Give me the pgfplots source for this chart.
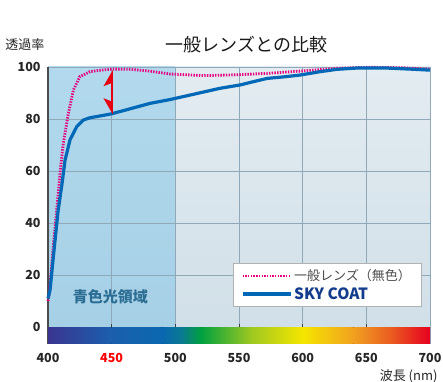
\documentclass[border=0pt]{standalone}
\usepackage{pgfplots}
\pgfplotsset{compat=1.18}
\usepackage{fontspec}
\setmainfont{Noto Sans CJK JP}
\usetikzlibrary{arrows.meta}
\definecolor{mag}{HTML}{E4007F}
\definecolor{skyb}{HTML}{0068B7}
\definecolor{gridc}{HTML}{8FA9BB}
\definecolor{txtb}{HTML}{2C6D93}
\definecolor{navy}{HTML}{143C8C}
\definecolor{arrowred}{HTML}{E60012}
\definecolor{lbtop}{HTML}{B2D9ED}
\definecolor{lbbot}{HTML}{A6D0E6}
\definecolor{rbtop}{HTML}{E3ECF1}
\definecolor{rbbot}{HTML}{D1DFE8}
\definecolor{s400}{HTML}{3B3590}
\definecolor{s450}{HTML}{1B5FAD}
\definecolor{s490}{HTML}{0A68B0}
\definecolor{s505}{HTML}{0A7A90}
\definecolor{s520}{HTML}{00A040}
\definecolor{s560}{HTML}{A0C820}
\definecolor{s600}{HTML}{F5E600}
\definecolor{s640}{HTML}{F0A020}
\definecolor{s670}{HTML}{EA5A20}
\definecolor{s700}{HTML}{E60020}
\begin{document}
\begin{tikzpicture}
\begin{axis}[
  set layers,
  scale only axis,
  width=382bp, height=277bp,
  xmin=400, xmax=700, ymin=-6.5, ymax=100,
  axis x line*=bottom, axis y line*=left,
  x axis line style={draw=none},
  y axis line style={draw=black!70, line width=1.6bp},
  xtick={400,450,...,700},
  xticklabels={400,\textcolor{red}{450},500,550,600,650,700},
  ytick={0,20,...,100},
  major tick length=0pt,
  grid=major,
  grid style={gridc, line width=0.7bp},
  /pgf/number format/assume math mode=true,
  ticklabel style={font=\fontsize{12.5bp}{14bp}\selectfont\bfseries, text=black!85},
  xticklabel style={yshift=-6bp},
  yticklabel style={xshift=-4bp},
  clip=false,
  legend style={at={(axis cs:545,24.5)}, anchor=north west, draw=black!30, fill=white,
    line width=0.8bp, inner xsep=8bp, inner ysep=4bp, row sep=1bp,
    font=\fontsize{13bp}{15bp}\selectfont, cells={anchor=west}},
  legend cell align=left,
  legend image code/.code={\draw[#1] (0bp,0bp) -- (48bp,0bp);},
]
\begin{pgfonlayer}{axis background}
\fill[top color=lbtop, bottom color=lbbot] (axis cs:400,0) rectangle (axis cs:500,100);
\fill[top color=rbtop, bottom color=rbbot] (axis cs:500,0) rectangle (axis cs:700,100);
\end{pgfonlayer}
\fill[left color=s400, right color=s450] (axis cs:400,-6.5) rectangle (axis cs:450,0);
\fill[left color=s450, right color=s490] (axis cs:450,-6.5) rectangle (axis cs:490,0);
\fill[left color=s490, right color=s505] (axis cs:490,-6.5) rectangle (axis cs:505.1,0);
\fill[left color=s505, right color=s520] (axis cs:505,-6.5) rectangle (axis cs:520.1,0);
\fill[left color=s520, right color=s560] (axis cs:520,-6.5) rectangle (axis cs:560.1,0);
\fill[left color=s560, right color=s600] (axis cs:560,-6.5) rectangle (axis cs:600.1,0);
\fill[left color=s600, right color=s640] (axis cs:600,-6.5) rectangle (axis cs:640.1,0);
\fill[left color=s640, right color=s670] (axis cs:640,-6.5) rectangle (axis cs:670.1,0);
\fill[left color=s670, right color=s700] (axis cs:670,-6.5) rectangle (axis cs:700,0);
\pgfplotsinvokeforeach{450,500,550,600,650}{\draw[black!75, line width=1bp] (axis cs:#1,0) -- (axis cs:#1,1.2);}
\addplot[mag, line width=2.8bp, dash pattern=on 1.4bp off 1.3bp] coordinates {
(400,10) (401,13) (404.2,31) (406.8,45) (409.4,59) (412,70.6) (416,82.2) (420,91.2) (425,96.3) (433,98.2) (440,98.7) (450,99.2) (465,99.1) (480,98.4) (496,97.3) (522,96.7) (548,97.0) (574,97.6) (600,98.5) (627,99.5) (653,99.9) (679,99.7) (700,99.1)};
\addlegendentry{\textcolor{black!70}{一般レンズ（無色）}}
\addplot[skyb, line width=3.2bp] coordinates {
(400,11) (401.6,14.2) (404.2,27) (408,45) (410.7,54) (413.4,64.2) (417.3,72) (422.5,77) (427.7,79.6) (433,80.5) (440,81.1) (450,82) (465,84) (480,86) (496,87.5) (511.5,89.2) (535,91.8) (551,93.1) (560,94.2) (572,95.6) (585,96.2) (598,96.9) (613.7,98.2) (626.8,99.1) (642.5,99.6) (666,99.6) (684,99.2) (700,98.8)};
\addlegendentry{\textcolor{navy}{\fontsize{15.5bp}{16bp}\selectfont\bfseries SKY COAT}}
\draw[arrowred, line width=2.2bp, {Stealth[left, length=14bp, width=16bp, inset=3bp]}-{Stealth[right, length=14bp, width=16bp, inset=3bp]}] (axis cs:450,98.8) -- (axis cs:450,81.8);
\node[txtb, font=\fontsize{15bp}{18bp}\selectfont\bfseries] at (axis cs:449,11.5) {青色光領域};
\node[font=\fontsize{18bp}{20bp}\selectfont, text=black!90] at (axis cs:556,100) [yshift=22bp] {一般レンズとの比較};
\node[font=\fontsize{13bp}{15bp}\selectfont, text=black!85] at (rel axis cs:0,1) [xshift=-23bp, yshift=22bp] {透過率};
\node[font=\fontsize{13bp}{15bp}\selectfont, text=black!85, anchor=east] at (axis cs:700,-6.5) [xshift=11bp, yshift=-32bp] {波長 (nm)};
\end{axis}
\pgfresetboundingbox
\path[use as bounding box] (current axis.south west) ++(-48bp,-38bp) rectangle ([xshift=13bp, yshift=67bp]current axis.north east);
\end{tikzpicture}
\end{document}
